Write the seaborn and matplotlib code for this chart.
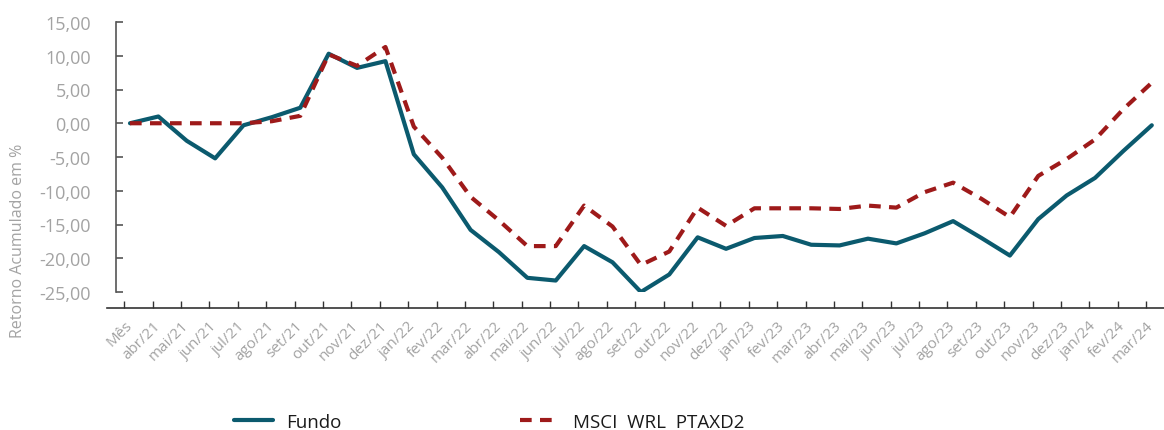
import numpy as np
import pandas as pd
import matplotlib.pyplot as plt
import seaborn as sns

# ==========================================
# 資料
# ==========================================
meses = ['Mês', 'abr/21', 'mai/21', 'jun/21', 'jul/21', 'ago/21', 'set/21', 'out/21',
         'nov/21', 'dez/21', 'jan/22', 'fev/22', 'mar/22', 'abr/22', 'mai/22', 'jun/22',
         'jul/22', 'ago/22', 'set/22', 'out/22', 'nov/22', 'dez/22', 'jan/23', 'fev/23',
         'mar/23', 'abr/23', 'mai/23', 'jun/23', 'jul/23', 'ago/23', 'set/23', 'out/23',
         'nov/23', 'dez/23', 'jan/24', 'fev/24', 'mar/24']

fundo = [0.0, 1.0, -2.6, -5.2, -0.3, 0.9, 2.3, 10.3, 8.2, 9.2, -4.6, -9.5, -15.8,
         -19.1, -22.9, -23.3, -18.2, -20.6, -25.0, -22.4, -16.9, -18.6, -17.0, -16.7,
         -18.0, -18.1, -17.1, -17.8, -16.3, -14.5, -17.0, -19.6, -14.2, -10.7, -8.1,
         -4.1, -0.3]

msci = [0.0, 0.0, 0.0, 0.0, 0.0, 0.3, 1.1, 10.2, 8.5, 11.3, -0.5, -5.1, -10.9,
        -14.4, -18.2, -18.2, -12.2, -15.3, -21.0, -19.0, -12.5, -15.2, -12.6, -12.6,
        -12.6, -12.7, -12.2, -12.5, -10.2, -8.8, -11.2, -13.9, -7.8, -5.3, -2.4,
        2.1, 6.0]

y_ticks = [15, 10, 5, 0, -5, -10, -15, -20, -25]

COR_FUNDO = '#0b5a6e'
COR_MSCI = '#9e1a1a'
CINZA = '#a3a3a3'

df = pd.DataFrame({'idx': np.arange(len(meses)), 'Fundo': fundo, 'MSCI': msci})

# ==========================================
# 繪圖
# ==========================================
sns.set_style('white')
plt.rcParams['font.family'] = ['Open Sans', 'DejaVu Sans']

fig = plt.figure(figsize=(11.64, 4.31), dpi=100)
ax = fig.add_axes([107 / 1164, 1 - 293 / 431, 1 - 107 / 1164, (293 - 23) / 431])

sns.lineplot(data=df, x='idx', y='Fundo', ax=ax, color=COR_FUNDO, lw=3,
             label='Fundo')
sns.lineplot(data=df, x='idx', y='MSCI', ax=ax, color=COR_MSCI, lw=3,
             dashes=(2.8, 2.0), label='MSCI  WRL  PTAXD2')

ax.set_ylim(-25, 15)
ax.set_xlim(-0.81, 36.43)

# 軸線
for s in ['top', 'right']:
    ax.spines[s].set_visible(False)
ax.spines['left'].set_position(('data', -0.5))
ax.spines['left'].set_bounds(-25, 15)
ax.spines['left'].set_color('#555555')
ax.spines['bottom'].set_position(('outward', 11.5))
ax.spines['bottom'].set_color('#333333')
ax.spines['left'].set_linewidth(1.2)
ax.spines['bottom'].set_linewidth(1.2)

ax.set_yticks(y_ticks)
ax.set_yticklabels([f'{v:.2f}'.replace('.', ',') for v in y_ticks])
ax.tick_params(axis='y', left=True, direction='in', length=5, width=1.2, color='#555555',
               labelsize=13, labelcolor=CINZA, pad=18)

ax.set_xticks(np.arange(len(meses)) - 0.2)
ax.set_xticklabels(meses, rotation=45, ha='right', va='top', rotation_mode='anchor')
ax.tick_params(axis='x', bottom=True, direction='in', length=5, width=1, color='#333333',
               labelsize=11, labelcolor=CINZA, pad=7)

ax.set_xlabel('')
ax.set_ylabel('')
fig.text(18 / 1164, 1 - 241 / 431, 'Retorno Acumulado em %', rotation=90,
         ha='center', va='center', fontsize=11.5, color=CINZA)

handles, labels = ax.get_legend_handles_labels()
ax.get_legend().remove()
fig.legend(handles, labels, loc='center', bbox_to_anchor=(489 / 1164, 1 - 423 / 431),
           ncol=2, frameon=False, fontsize=13.5, handlelength=2.1, columnspacing=9.5,
           labelcolor='#1a1a1a', handletextpad=0.7)

fig.savefig('out.png', dpi=100)
